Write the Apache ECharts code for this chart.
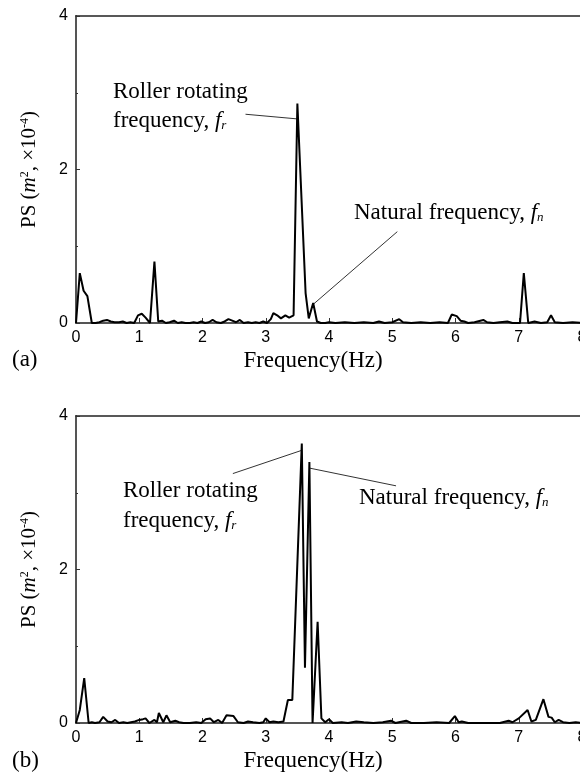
<!DOCTYPE html>
<html>
<head>
<meta charset="utf-8">
<script src="https://cdn.jsdelivr.net/npm/echarts@6/dist/echarts.min.js"></script>
<style>
html,body{margin:0;padding:0;background:#fff;}
#chart{width:580px;height:775px;}
</style>
</head>
<body>
<div id="chart"></div>
<script>
// ---- Data ----
const freqA = [0.00,0.06,0.12,0.18,0.25,0.31,0.37,0.43,0.49,0.55,0.61,0.68,0.74,0.80,0.86,0.92,0.98,1.04,1.10,1.17,1.24,1.30,1.36,1.42,1.48,1.55,1.61,1.67,1.73,1.80,1.86,1.92,1.98,2.04,2.10,2.16,2.22,2.29,2.35,2.41,2.47,2.53,2.59,2.65,2.72,2.78,2.84,2.90,2.96,3.02,3.08,3.12,3.18,3.24,3.31,3.37,3.44,3.50,3.63,3.68,3.75,3.81,3.87,3.94,4.00,4.10,4.25,4.40,4.55,4.70,4.79,4.88,5.00,5.11,5.17,5.30,5.45,5.60,5.75,5.88,5.94,6.02,6.08,6.14,6.20,6.30,6.44,6.50,6.60,6.70,6.82,6.90,7.02,7.08,7.15,7.25,7.35,7.45,7.51,7.57,7.70,7.85,8.00];
const psA   = [0.00,0.65,0.42,0.35,0.00,0.00,0.01,0.03,0.04,0.02,0.01,0.01,0.02,0.00,0.01,0.00,0.10,0.12,0.07,0.00,0.80,0.02,0.03,0.00,0.01,0.03,0.00,0.01,0.00,0.00,0.01,0.00,0.02,0.00,0.01,0.04,0.01,0.00,0.02,0.05,0.03,0.01,0.04,0.00,0.01,0.00,0.01,0.00,0.02,0.00,0.05,0.13,0.10,0.06,0.10,0.07,0.10,2.86,0.39,0.06,0.26,0.02,0.00,0.00,0.01,0.00,0.01,0.00,0.01,0.00,0.02,0.00,0.01,0.05,0.01,0.00,0.01,0.00,0.01,0.00,0.11,0.09,0.03,0.02,0.00,0.01,0.04,0.01,0.00,0.01,0.02,0.00,0.00,0.65,0.00,0.02,0.00,0.01,0.10,0.01,0.00,0.01,0.00];

const freqB = [0.00,0.06,0.13,0.20,0.25,0.30,0.37,0.43,0.50,0.56,0.62,0.68,0.75,0.81,0.87,0.93,1.00,1.06,1.10,1.16,1.24,1.28,1.31,1.38,1.43,1.49,1.57,1.63,1.70,1.80,1.90,1.98,2.05,2.12,2.18,2.25,2.31,2.38,2.49,2.56,2.65,2.72,2.80,2.90,2.96,3.00,3.06,3.12,3.20,3.28,3.35,3.42,3.57,3.62,3.69,3.74,3.82,3.88,3.94,4.00,4.06,4.20,4.30,4.43,4.55,4.70,4.85,4.98,5.05,5.22,5.30,5.50,5.70,5.90,5.99,6.05,6.10,6.20,6.50,6.70,6.84,6.90,7.00,7.14,7.20,7.27,7.39,7.47,7.52,7.57,7.63,7.70,7.80,7.90,8.00];
const psB   = [0.00,0.17,0.585,0.00,0.01,0.00,0.01,0.08,0.02,0.01,0.04,0.00,0.01,0.00,0.01,0.02,0.04,0.05,0.06,0.00,0.04,0.01,0.13,0.01,0.10,0.01,0.03,0.01,0.00,0.00,0.01,0.00,0.05,0.06,0.01,0.04,0.00,0.10,0.09,0.01,0.00,0.02,0.01,0.00,0.01,0.06,0.01,0.02,0.01,0.02,0.30,0.30,3.64,0.72,3.40,0.00,1.32,0.06,0.01,0.05,0.00,0.01,0.00,0.02,0.01,0.00,0.01,0.03,0.00,0.03,0.00,0.00,0.01,0.00,0.09,0.01,0.02,0.00,0.00,0.00,0.03,0.01,0.06,0.17,0.02,0.04,0.31,0.08,0.07,0.01,0.04,0.01,0.00,0.01,0.00];

// annotation leader lines (data coordinates)
const leaderA = [[[2.68,2.72],[3.49,2.66]], [[5.08,1.19],[3.76,0.25]]];
const leaderB = [[[2.48,3.25],[3.56,3.55]], [[3.70,3.32],[5.06,3.09]]];

const xName = 'Frequency(Hz)';
const yName = 'PS ({i|m}{sup|2}, \u00d710{sup|-4})';

const SERIF = "'Liberation Serif','Times New Roman',serif";
const SANS = "'Liberation Sans',Arial,sans-serif";

const chart = echarts.init(document.getElementById('chart'), null, {renderer:'canvas'});

const grids = [
  {left:76, top:16, width:506, height:307, outerBoundsMode:'none', containLabel:false},
  {left:76, top:416, width:506, height:307, outerBoundsMode:'none', containLabel:false}
];

function xAxisBottom(gi){
  return {
    type:'value', gridIndex:gi, position:'bottom', min:0, max:8, interval:1,
    axisLine:{show:true, onZero:false, lineStyle:{color:'#555', width:2}},
    axisTick:{show:true, inside:true, length:5, lineStyle:{color:'#333', width:1}},
    axisLabel:{fontFamily:SANS, fontSize:16, color:'#000', margin:7},
    splitLine:{show:false},
    name:xName, nameLocation:'middle', nameGap:26,
    nameTextStyle:{fontFamily:SERIF, fontSize:23, color:'#000', padding:[0,32,0,0]}
  };
}
function xAxisTop(gi){
  return {
    type:'value', gridIndex:gi, position:'top', min:0, max:8, interval:1,
    axisLine:{show:true, onZero:false, lineStyle:{color:'#222', width:1.5}},
    axisTick:{show:false}, axisLabel:{show:false}, splitLine:{show:false}
  };
}
function yAxis(gi){
  return {
    type:'value', gridIndex:gi, min:0, max:4, interval:2,
    axisLine:{show:true, onZero:false, lineStyle:{color:'#555', width:2}},
    axisTick:{show:true, inside:true, length:4, lineStyle:{color:'#333', width:1}},
    minorTick:{show:true, splitNumber:2, length:2, lineStyle:{color:'#333', width:1}},
    axisLabel:{fontFamily:SANS, fontSize:16, color:'#000', margin:8},
    splitLine:{show:false},
    name:yName, nameLocation:'middle', nameGap:36, nameRotate:90,
    nameTextStyle:{fontFamily:SERIF, fontSize:21, color:'#000',
      rich:{
        i:{fontFamily:SERIF, fontSize:21, fontStyle:'italic', color:'#000'},
        sup:{fontFamily:SERIF, fontSize:12, verticalAlign:'top', color:'#000'}
      }}
  };
}

function leaderLines(arr){
  return {
    silent:true, symbol:['none','none'], animation:false,
    lineStyle:{color:'#333', width:1, type:'solid'},
    label:{show:false},
    data: arr.map(seg => [{coord:seg[0]},{coord:seg[1]}])
  };
}

function series(fr, ps, gi, leaders){
  return {
    type:'line', xAxisIndex:gi*2, yAxisIndex:gi,
    data: fr.map((f,i)=>[f, ps[i]]),
    showSymbol:false, symbol:'none',
    lineStyle:{color:'#000', width:2},
    z:5, animation:false,
    markLine: leaderLines(leaders)
  };
}

const richF = {
  i:{font:"italic 23px "+SERIF, fill:'#000'},
  sb:{font:"italic 13px "+SERIF, fill:'#000', verticalAlign:'bottom'}
};
function txt(x, y, text){
  return {type:'text', left:x, top:y, style:{text:text, font:"23px "+SERIF, fill:'#000', rich:richF}};
}

chart.setOption({
  animation:false,
  backgroundColor:'#fff',
  grid: grids,
  xAxis:[xAxisBottom(0), xAxisTop(0), xAxisBottom(1), xAxisTop(1)],
  yAxis:[yAxis(0), yAxis(1)],
  series:[series(freqA, psA, 0, leaderA), series(freqB, psB, 1, leaderB)],
  graphic:[
    txt(113, 80, 'Roller rotating'),
    txt(113, 109, 'frequency, {i|f}{sb|r}'),
    txt(354, 201, 'Natural frequency, {i|f}{sb|n}'),
    txt(123, 479, 'Roller rotating'),
    txt(123, 509, 'frequency, {i|f}{sb|r}'),
    txt(359, 486, 'Natural frequency, {i|f}{sb|n}'),
    txt(12, 348, '(a)'),
    txt(12, 749, '(b)')
  ]
});
</script>
</body>
</html>
